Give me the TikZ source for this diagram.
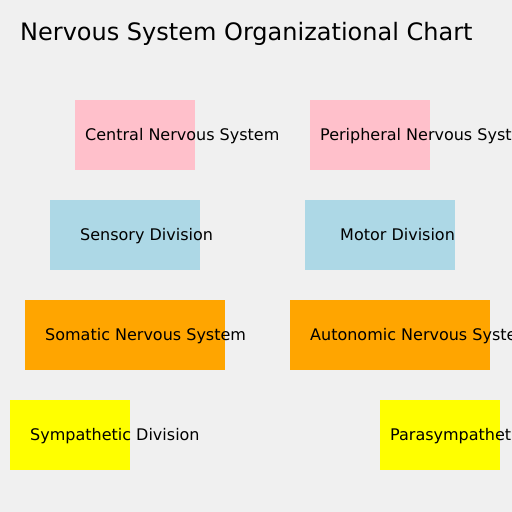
\documentclass[tikz,border=0pt]{standalone}
\usepackage{fontspec}
\setmainfont{DejaVu Sans}
\definecolor{bg}{HTML}{F0F0F0}
\definecolor{pinkbox}{HTML}{FFC0CB}
\definecolor{bluebox}{HTML}{ADD8E6}
\definecolor{orangebox}{HTML}{FFA500}
\definecolor{yellowbox}{HTML}{FFFF00}
\begin{document}
\begin{tikzpicture}[x=1pt,y=-1pt,
  lbl/.style={anchor=base west, inner sep=0pt, font=\fontsize{16}{19}\selectfont, text=black}]
\useasboundingbox (0,0) rectangle (512,512);
\clip (0,0) rectangle (512,512);
\fill[bg] (0,0) rectangle (512,512);
\node[anchor=base west, inner sep=0pt, font=\fontsize{24}{28}\selectfont] (title) at (20,40) {Nervous System Organizational Chart};
% boxes
\fill[pinkbox] (75,100) rectangle (195,170);
\fill[pinkbox] (310,100) rectangle (430,170);
\fill[bluebox] (50,200) rectangle (200,270);
\fill[bluebox] (305,200) rectangle (455,270);
\fill[orangebox] (25,300) rectangle (225,370);
\fill[orangebox] (290,300) rectangle (490,370);
\fill[yellowbox] (10,400) rectangle (130,470);
\fill[yellowbox] (380,400) rectangle (500,470);
% labels
\node[lbl] (cns) at (85,140) {Central Nervous System};
\node[lbl] (pns) at (320,140) {Peripheral Nervous System};
\node[lbl] (sen) at (80,240) {Sensory Division};
\node[lbl] (mot) at (340,240) {Motor Division};
\node[lbl] (som) at (45,340) {Somatic Nervous System};
\node[lbl] (aut) at (310,340) {Autonomic Nervous System};
\node[lbl] (sym) at (30,440) {Sympathetic Division};
\node[lbl] (par) at (390,440) {Parasympathetic Division};
\end{tikzpicture}
\end{document}
